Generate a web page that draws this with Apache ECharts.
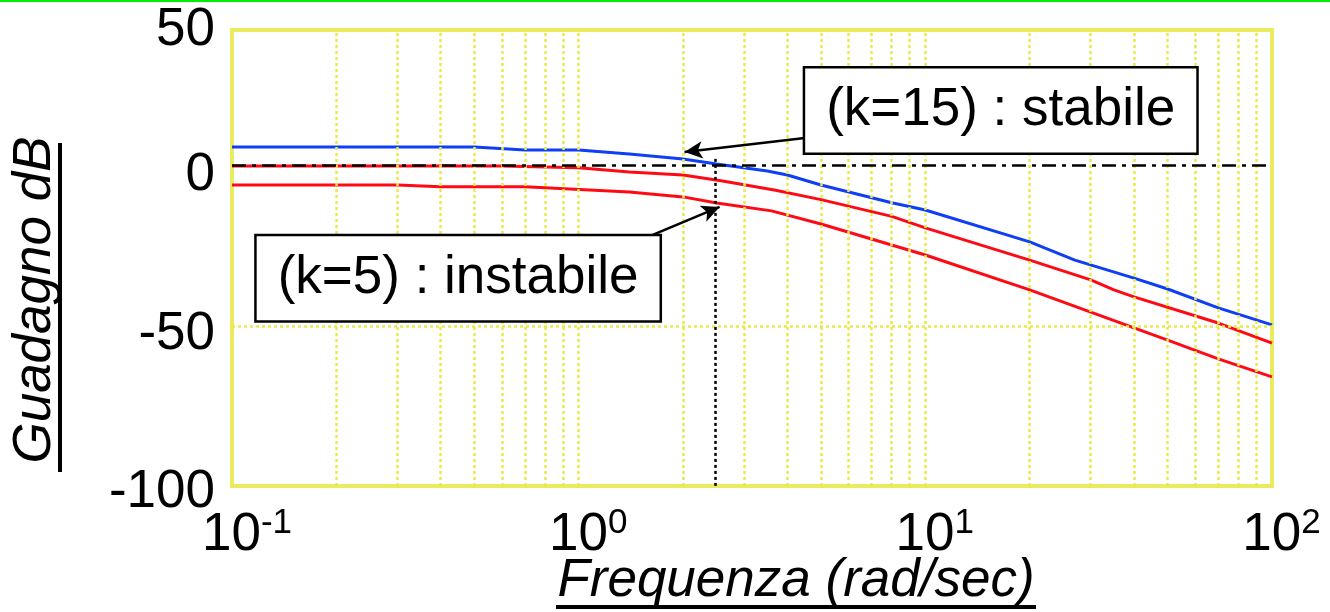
<!DOCTYPE html>
<html>
<head>
<meta charset="utf-8">
<script src="https://cdn.jsdelivr.net/npm/echarts@6/dist/echarts.min.js"></script>
<style>
  html, body { margin: 0; padding: 0; background: #fff; }
  #main { width: 1330px; height: 612px; }
</style>
</head>
<body>
<div id="main"></div>
<script>
//----------- Data (frequency rad/s, gain dB)
const blueCurve = [
    [0.1, 11.5], [0.5, 11.5], [0.7, 10.5], [1, 10.5], [1.4, 9.2], [2, 7.6],
    [2.5, 5.9], [3.5, 3.6], [4, 2.3], [5, -1.0], [8, -6.8], [10, -9.2],
    [20, -19.7], [27, -25.7], [40, -31.6], [50, -35.2], [70, -41.4], [100, -47.0]
];
const redUpper = [
    [0.1, 5.3], [0.6, 5.3], [1, 4.7], [1.4, 3.3], [2, 2.3], [2.6, 0.3],
    [3.7, -2.7], [5, -5.8], [8, -11.3], [10, -15.1], [20, -25.7], [30, -32.2],
    [35, -35.5], [40, -37.8], [70, -46.4], [100, -53.0]
];
const redLower = [
    [0.1, -1.0], [0.3, -1.0], [0.4, -1.6], [0.7, -1.6], [1.4, -3.3], [2, -4.9],
    [2.5, -6.9], [3.6, -9.5], [5, -13.8], [10, -24.0], [20, -35.5], [40, -48.0],
    [50, -52.0], [70, -58.2], [100, -64.1]
];
//vertical grid lines (every 1..9 of each decade) and the one horizontal grid line
const gridFreqs = [0.2, 0.3, 0.4, 0.5, 0.6, 0.7, 0.8, 0.9, 1, 2, 3, 4, 5, 6, 7, 8, 9, 10,
    20, 30, 40, 50, 60, 70, 80, 90];
const gridGains = [-47.4];
//reference lines: dash-dot "0 dB" line and dotted crossover line
const refGain = 5.6;
const crossFreq = 2.48;
const crossTop = 7.6;
//annotations: box centre and arrow (from, to)
const notes = [
    {text: "(k=15) : stabile", box: [16.5, 23.5], from: [4.49, 14.5], to: [2.02, 9.9]},
    {text: "(k=5) : instabile", box: [0.449, -31.7], from: [1.635, -17.4], to: [2.55, -8.2]}
];
const xTicks = [0.1, 100];
const yTicks = [-100, 50];
//----------- Data

const FONT = "Liberation Sans, Arial, sans-serif";
const FS = 53;
const YELLOW = "#ebeb5e";
const myChart = echarts.init(document.getElementById("main"));

const option = {
    animation: false,
    backgroundColor: "#fff",
    textStyle: {fontFamily: FONT},
    grid: {
        left: 232, right: 58, top: 30, bottom: 126,
        outerBoundsMode: "none",
        containLabel: false,
        show: true, borderColor: YELLOW, borderWidth: 4, backgroundColor: "#fff"
    },
    xAxis: {
        type: "log",
        logBase: 10,
        min: xTicks[0],
        max: xTicks[1],
        axisLine: {show: false},
        axisTick: {show: false},
        splitLine: {show: false},
        name: "Frequenza (rad/sec)",
        nameLocation: "middle",
        nameMoveOverlap: false,
        nameGap: 69,
        nameTextStyle: {fontSize: FS, fontStyle: "italic", color: "#000", padding: [0, 0, 0, 88], fontFamily: FONT},
        axisLabel: {
            margin: 22,
            showMinLabel: true,
            showMaxLabel: true,
            color: "#000",
            formatter: v => {
                const e = Math.round(Math.log10(v));
                return (e < 0 ? "{bn|10}" : "{b|10}") + "{s|" + e + "}";
            },
            rich: {
                b: {fontSize: FS, lineHeight: 54, color: "#000", padding: [0, 0, 0, 19], fontFamily: FONT},
                bn: {fontSize: FS, lineHeight: 54, color: "#000", padding: [0, 0, 0, 30], fontFamily: FONT},
                s: {fontSize: 35, lineHeight: 30, color: "#000", padding: [0, 0, 24, 0], fontFamily: FONT}
            }
        }
    },
    yAxis: {
        type: "value",
        min: yTicks[0],
        max: yTicks[1],
        interval: 50,
        axisLine: {show: false},
        axisTick: {show: false},
        splitLine: {show: false},
        name: "Guadagno dB",
        nameLocation: "middle",
        nameMoveOverlap: false,
        nameRotate: 90,
        nameGap: 170,
        nameTextStyle: {fontSize: FS, fontStyle: "italic", color: "#000", padding: [0, 84, 0, 0], fontFamily: FONT},
        axisLabel: {
            margin: 17,
            fontSize: FS,
            color: "#000",
            formatter: v => v === 0 ? "{u|0}" : v === -100 ? "{d|-100}" : String(v),
            rich: {
                u: {fontSize: FS, color: "#000", padding: [0, 0, 14, 0], fontFamily: FONT},
                d: {fontSize: FS, color: "#000", padding: [12, 0, 0, 0], fontFamily: FONT}
            }
        }
    },
    series: [
        {
            //grid lines
            type: "line",
            data: [],
            z: 1,
            silent: true,
            markLine: {
                silent: true,
                symbol: "none",
                label: {show: false},
                lineStyle: {color: "#e9e94c", width: 2.5, type: [3, 3]},
                data: gridFreqs.map(f => ({xAxis: f})).concat(gridGains.map(g => ({yAxis: g})))
            }
        },
        {
            name: "k=15",
            type: "line",
            data: blueCurve,
            z: 3,
            showSymbol: false,
            lineStyle: {color: "#0f3ff5", width: 3},
            itemStyle: {color: "#0f3ff5"}
        },
        {
            name: "k=10",
            type: "line",
            data: redUpper,
            z: 3,
            showSymbol: false,
            lineStyle: {color: "#ff0a14", width: 3},
            itemStyle: {color: "#ff0a14"}
        },
        {
            name: "k=5",
            type: "line",
            data: redLower,
            z: 3,
            showSymbol: false,
            lineStyle: {color: "#ff0a14", width: 3},
            itemStyle: {color: "#ff0a14"}
        },
        {
            //reference lines
            type: "line",
            data: [],
            z: 4,
            silent: true,
            markLine: {
                silent: true,
                symbol: "none",
                label: {show: false},
                data: [
                    {yAxis: refGain, lineStyle: {color: "#000", width: 2.5, type: [14, 6, 4, 6]}},
                    [
                        {coord: [crossFreq, crossTop], lineStyle: {color: "#000", width: 2.5, type: [3, 3]}},
                        {coord: [crossFreq, yTicks[0]]}
                    ]
                ]
            }
        },
        {
            //annotation arrows and boxes
            type: "line",
            data: [],
            z: 5,
            silent: true,
            markLine: {
                silent: true,
                symbol: ["none", "arrow"],
                symbolSize: [13, 18],
                label: {show: false},
                lineStyle: {color: "#000", width: 2.5, type: "solid"},
                data: notes.map(n => [{coord: n.from}, {coord: n.to}])
            },
            markPoint: {
                silent: true,
                symbol: "rect",
                symbolSize: 1,
                itemStyle: {color: "rgba(0,0,0,0)"},
                label: {
                    show: true,
                    position: "inside",
                    color: "#000",
                    fontSize: FS,
                    fontFamily: FONT,
                    lineHeight: 62,
                    backgroundColor: "#fff",
                    borderColor: "#000",
                    borderWidth: 2.5,
                    padding: [11, 21, 11, 21],
                    formatter: p => p.name
                },
                data: notes.map(n => ({name: n.text, coord: n.box}))
            }
        }
    ],
    graphic: [
        //green rule at the top of the slide
        {type: "rect", left: 0, top: 0, shape: {width: 1330, height: 2}, style: {fill: "#00ee00"}, silent: true},
        //underlines of the axis titles
        {type: "rect", left: 556, top: 605, shape: {width: 480, height: 4}, style: {fill: "#000"}, silent: true},
        {type: "rect", left: 58, top: 143, shape: {width: 4, height: 329}, style: {fill: "#000"}, silent: true}
    ]
};

myChart.setOption(option);
</script>
</body>
</html>
